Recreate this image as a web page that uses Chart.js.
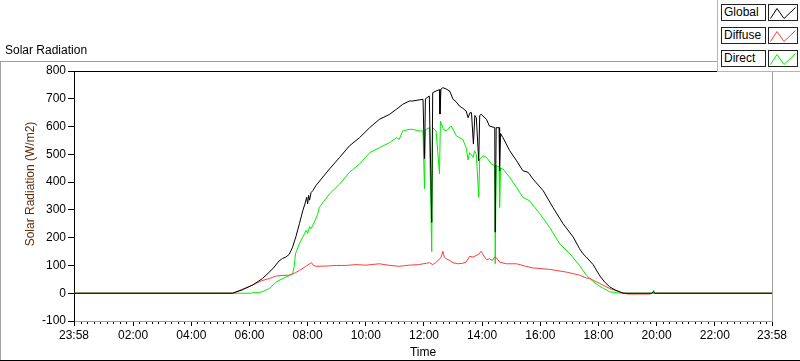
<!DOCTYPE html>
<html>
<head>
<meta charset="utf-8">
<script src="https://cdn.jsdelivr.net/npm/chart.js@4"></script>
<style>
  html, body { margin: 0; padding: 0; background: #fff; }
  #wrap { position: relative; width: 800px; height: 361px; overflow: hidden; font-family: "Liberation Sans", Arial, sans-serif; }
  #c { position: absolute; left: 0; top: 0; }
  #caption { position: absolute; left: 5px; top: 43px; font-size: 12px; color: #000; white-space: nowrap; }
  #legend { position: absolute; left: 717px; top: 0; width: 83px; height: 71px; background: #fff;
            border-left: 1px solid #b4b4b4; border-bottom: 1px solid #b4b4b4; }
  .item { position: absolute; left: 3px; height: 17px; }
  .lbl { position: absolute; left: 0; top: 0; width: 41px; height: 15px; border: 1px solid #222; font-size: 12px;
         line-height: 15px; padding-left: 2px; box-sizing: content-box; white-space: nowrap; color: #000; }
  .smp { position: absolute; left: 47px; top: 0; width: 28px; height: 15px; border: 1px solid #222; }
  .smp svg { display: block; }
</style>
</head>
<body>
<div id="wrap">
  <canvas id="c" width="800" height="361"></canvas>
  <div id="caption">Solar Radiation</div>
  <div id="legend"></div>
</div>
<script>
// ---------- data ----------
const seriesNames = ['Global', 'Diffuse', 'Direct'];

const globalTimes = ['-00:02','05:25','05:45','06:06','06:27','06:48','07:01','07:08','07:15','07:22','07:29','07:36','07:43','07:50','07:55','07:58','08:00','08:02','08:04','08:07','08:11','08:17','08:28','08:45','09:06','09:26','09:47','10:08','10:28','10:49','11:03','11:16','11:30','11:37','11:50','11:58','12:01','12:03','12:08','12:11','12:16','12:18','12:25','12:32','12:33','12:35','12:39','12:46','12:53','13:00','13:06','13:13','13:20','13:27','13:31','13:35','13:38','13:42','13:45','13:48','13:53','13:55','13:58','14:09','14:15','14:26','14:27','14:29','14:35','14:36','14:38','14:43','14:57','15:11','15:24','15:35','15:45','16:06','16:26','16:47','17:08','17:21','17:28','17:35','17:49','18:03','18:13','18:23','18:34','18:44','18:51','19:50','19:53','19:56','23:58'];
const globalValues = [0,0,12,29,53,88,116,125,130,140,166,205,250,297,325,345,322,352,335,362,370,387,411,447,489,530,560,596,626,644,662,680,692,692,696,698,485,700,706,710,255,722,728,733,645,735,740,735,728,698,690,674,666,656,632,650,650,537,640,632,477,640,644,626,602,596,220,596,596,440,575,560,513,477,441,435,411,369,309,250,202,160,142,130,103,62,40,23,12,5,0,0,6,0,0];

const diffuseTimes = ['-00:02','05:25','05:45','06:06','06:25','06:41','06:55','07:08','07:22','07:33','07:43','07:55','08:04','08:08','08:12','08:17','08:40','09:00','09:19','09:40','10:00','10:28','10:50','11:09','11:30','11:49','12:05','12:11','12:18','12:24','12:29','12:35','12:39','12:42','12:46','12:53','13:00','13:10','13:20','13:27','13:34','13:41','13:48','13:53','13:58','14:05','14:10','14:15','14:21','14:26','14:31','14:36','14:50','15:11','15:28','15:45','16:19','16:54','17:21','17:35','17:42','18:03','18:23','18:47','19:01','19:46','19:50','23:58'];
const diffuseValues = [0,0,14,29,45,53,62,64,65,72,82,95,106,110,100,97,98,100,100,103,101,106,100,97,101,103,108,110,103,110,118,128,151,130,124,118,110,106,108,112,133,130,136,140,151,130,120,124,118,130,125,112,106,106,98,91,86,76,65,55,53,35,17,3,-3,-3,0,0];

const directTimes = ['-00:02','06:04','06:06','06:20','06:30','06:41','06:55','07:05','07:15','07:29','07:32','07:35','07:43','07:50','07:57','08:00','08:04','08:07','08:14','08:21','08:24','08:33','08:45','09:06','09:12','09:26','09:47','10:08','10:28','10:49','11:03','11:09','11:16','11:30','11:37','11:50','11:58','12:01','12:03','12:05','12:11','12:16','12:18','12:25','12:32','12:34','12:40','12:46','12:56','13:07','13:20','13:27','13:31','13:34','13:42','13:44','13:48','13:53','13:55','14:02','14:09','14:19','14:26','14:27','14:29','14:35','14:36','14:38','14:43','14:57','15:11','15:24','15:38','15:59','16:19','16:40','17:01','17:21','17:35','17:47','17:59','18:23','18:47','19:52','19:54','19:56','23:58'];
const directValues = [0,0,2,2,8,17,40,50,58,70,94,142,178,202,226,215,240,232,256,286,309,330,357,393,405,435,465,506,524,542,560,554,584,590,590,584,584,376,590,590,596,150,596,584,430,620,590,584,602,566,554,524,480,506,489,513,500,345,483,495,489,465,460,106,459,455,309,450,447,417,381,345,333,286,238,178,142,100,65,45,29,5,0,0,10,0,0];

const yTickValues = [-100,0,100,200,300,400,500,600,700,800];
const xTickValues = [-2,120,240,360,480,600,720,840,960,1080,1200,1320,1438];
const xTickLabels = ['23:58','02:00','04:00','06:00','08:00','10:00','12:00','14:00','16:00','18:00','20:00','22:00','23:58'];

// ---------- helpers ----------
const FONT = '"Liberation Sans", Arial, sans-serif';
const toMin = s => { const neg = s[0] === '-'; const [h, m] = s.replace('-', '').split(':').map(Number); const v = h * 60 + m; return neg ? -v : v; };
const pts = (t, v) => t.map((s, i) => ({ x: toMin(s), y: v[i] }));
const colors = ['#000000', '#ff3c3c', '#00ee00'];

// legend (HTML)
const legend = document.getElementById('legend');
seriesNames.forEach((n, i) => {
  const it = document.createElement('div');
  it.className = 'item';
  it.style.top = (4 + i * 23) + 'px';
  it.innerHTML = '<div class="lbl">' + n + '</div><div class="smp"><svg width="28" height="15" viewBox="0 0 28 15"><polyline points="1.5,13.5 8,3.5 15,13.5 26.5,2.5" fill="none" stroke="' + colors[i] + '" stroke-width="1"/></svg></div>';
  legend.appendChild(it);
});

// minor ticks: 8 per 2-hour interval
const minorTicks = [];
for (let k = 0; k < 12; k++) for (let j = 1; j <= 8; j++) minorTicks.push(k * 120 + j * 120 / 9);
for (let j = 1; j <= 8; j++) minorTicks.push(1320 + j * 120 / 9);

const framePlugin = {
  id: 'frame',
  beforeDraw(chart) {
    const ctx = chart.ctx, a = chart.chartArea;
    ctx.save();
    ctx.fillStyle = '#fff';
    ctx.fillRect(0, 0, chart.width, chart.height);
    ctx.fillStyle = '#a0a0a0';
    ctx.fillRect(0, 61, 717, 1);     // outer frame top
    ctx.fillRect(0, 61, 1, 300);     // outer frame left
    ctx.fillStyle = '#000';
    ctx.fillRect(0, 360, 800, 1);    // outer frame bottom
    ctx.restore();
  },
  afterDraw(chart) {
    const ctx = chart.ctx, a = chart.chartArea;
    ctx.save();
    ctx.fillStyle = '#000';
    ctx.fillRect(Math.round(a.left), Math.round(a.top), Math.round(a.right - a.left), 1);
    ctx.fillStyle = '#a0a0a0';
    ctx.fillRect(Math.round(a.right), Math.round(a.top), 1, Math.round(a.bottom - a.top) + 1);
    // minor x ticks
    const xs = chart.scales.x;
    ctx.fillStyle = '#000';
    minorTicks.forEach(v => {
      const px = Math.floor(xs.getPixelForValue(v));
      ctx.fillRect(px, Math.round(a.bottom) + 1, 1, 2);
    });
    // y axis title
    ctx.translate(31, 184);
    ctx.rotate(-Math.PI / 2);
    ctx.font = '12px ' + FONT;
    ctx.fillStyle = '#5a2d0c';
    ctx.textAlign = 'center';
    ctx.textBaseline = 'middle';
    ctx.fillText('Solar Radiation (W/m2)', 0, 0);
    ctx.restore();
  }
};

new Chart(document.getElementById('c'), {
  type: 'line',
  data: {
    datasets: [
      { label: seriesNames[0], data: pts(globalTimes, globalValues), borderColor: colors[0] },
      { label: seriesNames[1], data: pts(diffuseTimes, diffuseValues), borderColor: colors[1] },
      { label: seriesNames[2], data: pts(directTimes, directValues), borderColor: colors[2] }
    ]
  },
  options: {
    responsive: false,
    animation: false,
    events: [],
    layout: { padding: { top: 71, right: 28, left: 0, bottom: 0 } },
    elements: { point: { radius: 0 }, line: { borderWidth: 1, tension: 0 } },
    scales: {
      x: {
        type: 'linear', min: -2, max: 1438,
        afterFit(s) { s.height = 40; },
        afterBuildTicks(s) { s.ticks = xTickValues.map(v => ({ value: v })); },
        ticks: { autoSkip: false, maxRotation: 0, padding: 2, color: '#000', font: { family: FONT, size: 12 },
                 callback: (v, i) => xTickLabels[i] },
        grid: { display: true, drawOnChartArea: false, drawTicks: true, tickLength: 5, tickColor: '#000' },
        border: { display: true, color: '#a0a0a0' },
        title: { display: true, text: 'Time', color: '#000', font: { family: FONT, size: 12 }, padding: { top: 0, bottom: 1 } }
      },
      y: {
        min: -100, max: 800,
        afterFit(s) { s.width = 74; },
        afterBuildTicks(s) { s.ticks = yTickValues.map(v => ({ value: v })); },
        ticks: { padding: 2, color: '#000', font: { family: FONT, size: 12 } },
        grid: { display: true, drawOnChartArea: false, drawTicks: true, tickLength: 6, tickColor: '#000' },
        border: { display: true, color: '#000' }
      }
    },
    plugins: { legend: { display: false }, tooltip: { enabled: false }, title: { display: false } }
  },
  plugins: [framePlugin]
});
</script>
</body>
</html>
